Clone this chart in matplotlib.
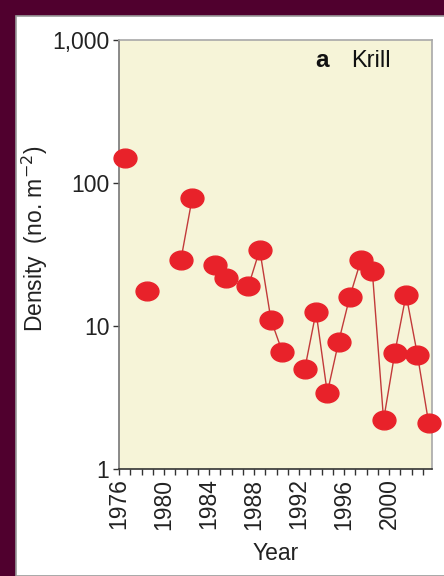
import numpy as np
import matplotlib.pyplot as plt
from matplotlib.markers import MarkerStyle
from matplotlib.transforms import Affine2D
from matplotlib.patches import Rectangle

plt.rcParams['font.family'] = ['Liberation Sans', 'DejaVu Sans']

# survey seasons (plotted mid-season), NaN = no survey that year
years = np.arange(1976, 2004)
density = [150, np.nan, 17.5, np.nan, np.nan, 29, 78, np.nan, 26.5, 21.5,
           np.nan, 19, 34, 11, 6.6, np.nan, 5.0, 12.5, 3.4, 7.7,
           16, 29, 24, 2.2, 6.5, 16.5, 6.3, 2.1]
x_ticks = [1976, 1980, 1984, 1988, 1992, 1996, 2000]
y_ticks = [1, 10, 100, 1000]
y_labels = ["1", "10", "100", "1,000"]

fig = plt.figure(figsize=(4.44, 5.76), dpi=100)
fig.patch.set_facecolor("#50002e")
panel = Rectangle((16 / 444, 0), 1, 1 - 16 / 576, transform=fig.transFigure,
                  facecolor="white", edgecolor="#9a9a9a", linewidth=1.2, zorder=-10)
fig.add_artist(panel)

ax = fig.add_axes([0.268, 0.186, 0.705, 0.745])
ax.set_facecolor("#f6f4d8")

oval = MarkerStyle("o", transform=Affine2D().scale(1.22, 1.0))
ax.plot(years + 0.5, density, color="#c23a3a", linewidth=1.0, zorder=2)
ax.plot(years + 0.5, density, linestyle="none", marker=oval, markersize=13.5,
        markerfacecolor="#e8222a", markeredgecolor="#e8222a", clip_on=False, zorder=3)

ax.set_yscale("log")
ax.set_ylim(1, 1000)
ax.set_xlim(1976, 2003.8)
ax.set_yticks(y_ticks)
ax.set_yticklabels(y_labels)
ax.yaxis.set_minor_locator(plt.NullLocator())
ax.set_xticks(x_ticks)
ax.set_xticklabels([str(y) for y in x_ticks], rotation=90)
ax.set_xticks(np.arange(1976, 2004), minor=True)

ax.tick_params(axis="both", which="both", direction="out", length=4, width=1,
               colors="#333333", labelcolor="#222222", labelsize=16.5, pad=3)

for side in ["top", "right"]:
    ax.spines[side].set_color("#a8a8a8")
ax.spines["left"].set_color("#777777")
ax.spines["bottom"].set_color("#333333")
for s in ax.spines.values():
    s.set_linewidth(1.2)

ax.set_xlabel("Year", fontsize=16.5, color="#222222", labelpad=9)
ax.set_ylabel("Density  (no. m$^{-2}$)", fontsize=16.5, color="#222222")
ax.yaxis.set_label_coords(-0.222, 0.535)

ax.text(0.626, 0.951, "a", transform=ax.transAxes, fontsize=17.5, fontweight="bold",
        ha="left", va="center", color="#111111")
ax.text(0.742, 0.951, "Krill", transform=ax.transAxes, fontsize=17,
        ha="left", va="center", color="#111111")

plt.savefig("out.png", dpi=100, facecolor=fig.get_facecolor())
